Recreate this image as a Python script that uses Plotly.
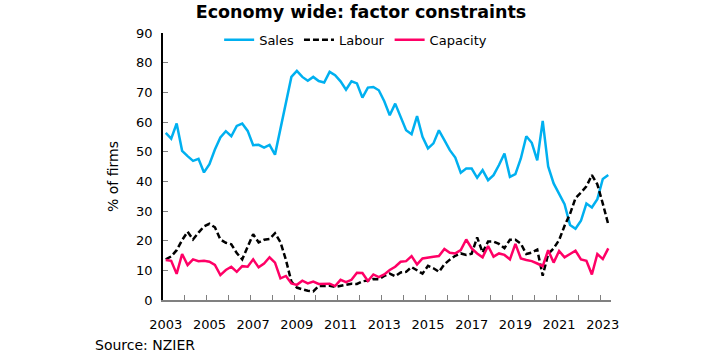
import plotly.graph_objects as go

# Quarterly data, 2003Q1 .. 2023Q2 (% of firms)
quarters = [f"{y}Q{q}" for y in range(2003, 2024) for q in range(1, 5)][:82]

sales = [56.3, 54.4, 59.5, 50.3, 48.5, 46.9, 47.6, 43.0, 45.8, 50.7, 54.8, 56.9, 55.2, 58.7, 59.5, 57.0, 52.2, 52.3, 51.4, 52.3, 49.0,
         57.8, 66.4, 75.2, 77.2, 75.2, 73.9, 75.2, 73.8, 73.3, 76.9, 75.8, 73.7, 70.9, 73.7, 73.0, 68.2, 71.6, 71.8, 70.7, 67.0,
         62.3, 66.2, 61.7, 57.2, 55.9, 62.0, 55.0, 51.1, 52.8, 57.2, 53.9, 50.5, 48.0, 42.9, 44.3, 44.3, 41.2, 43.8,
         40.4, 42.1, 45.5, 49.4, 41.5, 42.4, 47.7, 55.2, 53.0, 47.1, 60.4,
         45.0, 39.3, 36.0, 32.3, 25.3, 24.0, 26.7, 32.5, 31.2, 34.0, 40.8, 42.1]

labour = [13.7, 14.7, 16.8, 20.2, 23.0, 20.4, 22.7, 24.8, 25.7, 24.5, 20.4, 19.3, 18.8, 15.8, 13.7, 18.0, 22.2, 19.4, 20.3, 20.6, 22.5,
          19.5, 13.5, 6.2, 4.2, 3.6, 3.1, 2.9, 4.7, 4.7, 4.8, 4.4, 4.7, 5.2,
          5.5, 5.4, 6.3, 6.6, 7.1, 7.0, 8.1, 8.9, 8.0, 9.3, 9.5, 11.1, 9.9, 8.9, 11.5, 10.7, 9.5, 12.0, 13.6, 14.9, 15.7, 15.2,
          15.6, 21.1, 16.0, 19.7, 19.7, 18.9, 17.5, 20.3, 20.3, 19.0, 15.5, 16.0, 17.0, 8.2,
          15.5, 17.4, 20.2, 25.0, 29.0, 34.3, 36.2, 38.3, 42.1, 39.0, 32.5, 25.5]

capacity = [13.5, 13.2, 8.8, 15.5, 11.8, 13.7, 13.1, 13.2, 12.9, 11.8, 8.4, 10.1, 11.2, 9.5, 11.4, 11.2, 13.7, 11.0, 12.3, 14.4, 12.6,
            7.3, 8.1, 5.6, 5.1, 6.5, 5.6, 6.2, 5.4, 5.4,
            5.5, 4.7, 6.8, 6.0, 6.8, 9.2, 9.1, 6.4, 8.6, 7.7, 8.6, 10.1, 11.2, 12.9, 13.1, 14.8, 12.0, 14.0, 14.4, 14.6, 14.8, 17.2, 15.9, 15.7, 16.8, 20.4,
            17.4, 15.7, 14.4, 18.2, 14.6, 15.7, 15.2, 13.7, 18.9, 14.0, 13.5, 13.1, 12.3, 11.4, 16.8, 12.6, 16.5, 14.4, 15.5, 16.6, 13.7, 13.2, 8.6, 15.5, 13.8, 17.4]

year_ticks = list(range(2003, 2024, 2))
y_ticks = list(range(0, 91, 10))

# decimal-year position for each quarter
x = [int(q[:4]) + (int(q[-1]) - 1) / 4 for q in quarters]

FONT = "DejaVu Sans"

fig = go.Figure()
fig.add_trace(go.Scatter(x=x, y=sales, name="Sales", mode="lines",
                         line=dict(color="#00B0F0", width=2.5)))
fig.add_trace(go.Scatter(x=x, y=labour, name="Labour", mode="lines",
                         line=dict(color="#000000", width=2.5, dash="6px,3px")))
fig.add_trace(go.Scatter(x=x, y=capacity, name="Capacity", mode="lines",
                         line=dict(color="#FF0066", width=2.5)))

half = 0.125
x0, x1 = x[0] - half, x[-1] + half
minor_vals = [x0 + k for k in range(1, int(x1 - x0) + 1)]

ML, MR, MT, MB = 163, 98, 33, 61
W, H = 709, 361
pw = W - ML - MR
ph = H - MT - MB

def px(xp):
    return (xp - ML) / pw

def py(yp):
    return (H - MB - yp) / ph

fig.update_layout(
    width=W, height=H,
    margin=dict(l=ML, r=MR, t=MT, b=MB),
    paper_bgcolor="white", plot_bgcolor="white",
    font=dict(family=FONT, size=13, color="#000000"),
    showlegend=True,
    legend=dict(orientation="h", x=0.43, xanchor="center", y=0.975, yanchor="middle",
                bgcolor="rgba(0,0,0,0)", font=dict(size=13), itemwidth=30,
                tracegroupgap=0),
    title=dict(text="<b>Economy wide: factor constraints</b>", x=361 / W, xanchor="center",
               xref="container", y=1 - 12 / H, yanchor="middle", yref="container",
               font=dict(family=FONT, size=17.5, color="#000000")),
    xaxis=dict(range=[x0, x1], tickvals=year_ticks, ticktext=[str(v) for v in year_ticks],
               ticks="", showgrid=False, zeroline=False, showline=True,
               linecolor="#808080", linewidth=1.5, ticklabelstandoff=12,
               tickfont=dict(size=13),
               minor=dict(tickvals=minor_vals, ticks="inside", ticklen=5,
                          tickcolor="#808080", tickwidth=1, showgrid=False)),
    yaxis=dict(range=[0, 90], tickvals=y_ticks, ticks="inside", ticklen=5,
               tickcolor="#808080", showgrid=False, zeroline=False, showline=True,
               linecolor="#000000", linewidth=1.5, ticklabelstandoff=6,
               tickfont=dict(size=13)),
    annotations=[
        dict(text="% of firms", x=px(113), y=py(177), xref="paper", yref="paper",
             xanchor="center", yanchor="middle",
             showarrow=False, textangle=-90, font=dict(size=14)),
        dict(text="Source: NZIER", x=px(93), y=py(345), xref="paper", yref="paper",
             xanchor="left", yanchor="middle",
             showarrow=False, font=dict(size=14)),
    ],
)

fig.write_html("out.html",
               config={"displayModeBar": False},
               post_script="document.body.style.margin='0';document.body.style.overflow='hidden';")
